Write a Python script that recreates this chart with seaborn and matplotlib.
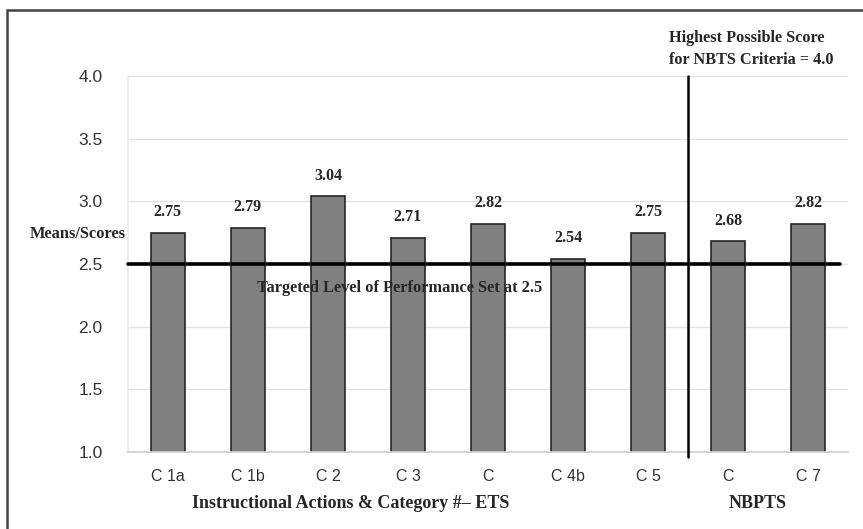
import matplotlib
matplotlib.use("Agg")
import matplotlib.pyplot as plt
from matplotlib.patches import Rectangle
import seaborn as sns
import pandas as pd

# chart values
tick_labels = ["C 1a", "C 1b", "C 2", "C 3", "C", "C 4b", "C 5", "C", "C 7"]
means = [2.75, 2.79, 3.04, 2.71, 2.82, 2.54, 2.75, 2.68, 2.82]
target_level = 2.5
max_score = 4.0
n_ets = 7  # first seven categories are ETS, the rest NBPTS

df = pd.DataFrame({
    "slot": [f"s{i}" for i in range(len(means))],
    "mean": means,
})

sns.set_theme(style="whitegrid")
serif = ["Liberation Serif", "DejaVu Serif"]
sans = ["Liberation Sans", "DejaVu Sans"]
plt.rcParams["font.family"] = sans

fig = plt.figure(figsize=(8.63, 5.29), dpi=100)
ax = fig.add_axes([0.148, 0.1456, 0.835, 0.7107])

sns.barplot(data=df, x="slot", y="mean", order=df["slot"], color="#808080",
            width=0.42, edgecolor="#262626", linewidth=1.2, saturation=1,
            ax=ax, zorder=2)

ax.set_ylim(1.0, 4.0)
ax.set_xlim(-0.5, len(means) - 0.5)
ax.set_yticks([1.0, 1.5, 2.0, 2.5, 3.0, 3.5, 4.0])
ax.set_yticklabels([f"{v:.1f}" for v in ax.get_yticks()])
ax.set_xticks(range(len(means)))
ax.set_xticklabels(tick_labels)
ax.set_xticks([i - 0.5 for i in range(len(means) + 1)], minor=True)
ax.tick_params(axis="x", which="major", length=0, pad=12, labelsize=11.5, labelcolor="#333333")
ax.tick_params(axis="x", which="minor", length=4, width=0.8, color="#cfcfcf", direction="out")
ax.tick_params(axis="y", length=0, pad=18, labelsize=12.5, labelcolor="#333333")
ax.set_xlabel("")
ax.set_ylabel("")
ax.grid(axis="x", visible=False)
ax.grid(axis="y", color="#e2e2e2", linewidth=1.0)
ax.set_facecolor("white")
for side in ["top", "right"]:
    ax.spines[side].set_visible(False)
ax.spines["bottom"].set_color("#d0d0d0")
ax.spines["left"].set_color("#ececec")

# value labels above bars
for bar, v in zip(ax.patches, means):
    ax.annotate(f"{v:.2f}", (bar.get_x() + bar.get_width() / 2, v),
                xytext=(0, 9), textcoords="offset points", ha="center",
                va="bottom", fontsize=11.5, fontweight="bold", family=serif)

# target line and the ETS / NBPTS divider
ax.plot([-0.5, len(means) - 0.6], [target_level, target_level],
        color="black", linewidth=2.6, zorder=3, clip_on=False)
ax.plot([n_ets - 0.5, n_ets - 0.5], [0.96, max_score],
        color="black", linewidth=1.8, zorder=3, clip_on=False)

ax.text(2.89, 2.31, "Targeted Level of Performance Set at 2.5", ha="center",
        va="center", fontsize=11.8, fontweight="bold", family=serif, zorder=4)
ax.text(-0.52, 2.74, "Means/Scores", ha="right", va="center", fontsize=11.8,
        fontweight="bold", family=serif)
ax.text(n_ets - 0.74, 4.065, "Highest Possible Score\nfor NBTS Criteria = 4.0",
        ha="left", va="bottom", fontsize=11.7, fontweight="bold", family=serif,
        linespacing=1.45)

fig.text(351 / 863, 1 - 503 / 529, "Instructional Actions & Category #\u2013 ETS",
         ha="center", va="center", fontsize=13, fontweight="bold", family=serif)
fig.text(758 / 863, 1 - 503 / 529, "NBPTS", ha="center", va="center",
         fontsize=13, fontweight="bold", family=serif)

# outer frame, cut off at the right and bottom in the original
fig.patches.append(Rectangle((7 / 863, -0.1), 1.2, 1.1 - 10 / 529,
                             transform=fig.transFigure, fill=False,
                             edgecolor="#444444", linewidth=1.8))

fig.savefig("out.png", dpi=100)
